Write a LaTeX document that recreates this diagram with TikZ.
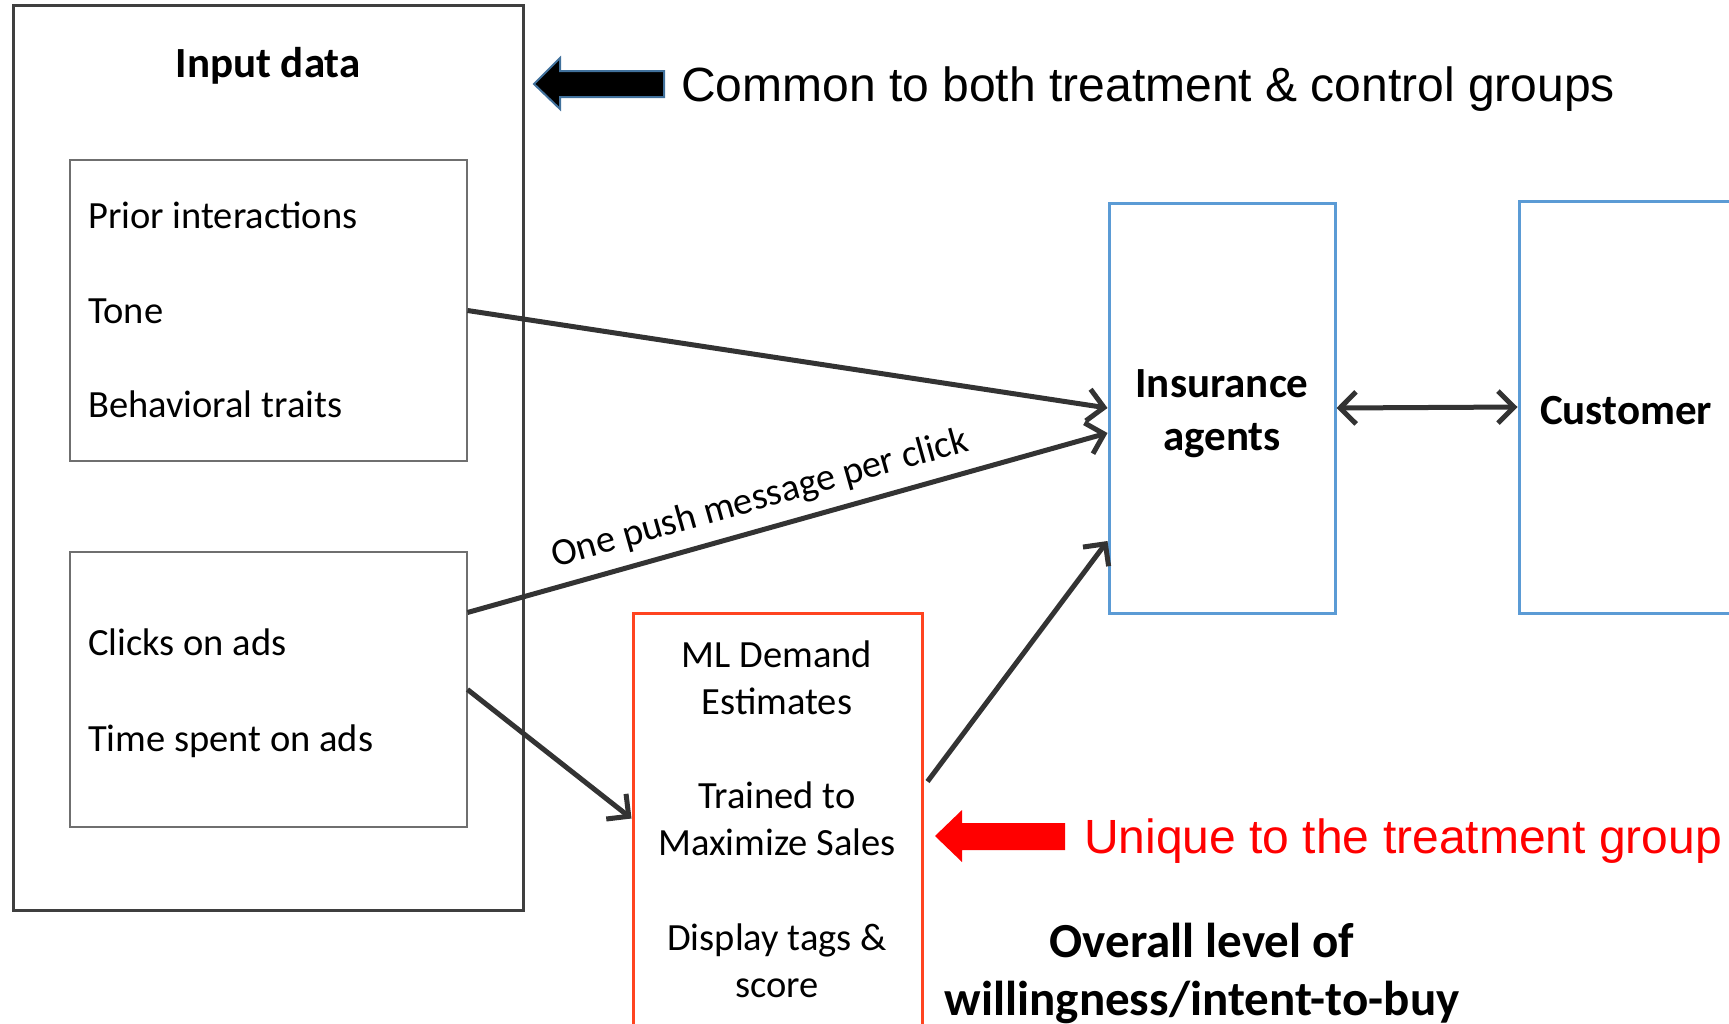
\documentclass[tikz,border=0pt]{standalone}
\usepackage{fontspec}
\setmainfont{Carlito}
\newfontfamily\arialfont{Liberation Sans}
\usetikzlibrary{arrows.meta}
\definecolor{framegray}{HTML}{3F3F3F}
\definecolor{featgray}{HTML}{6F6F6F}
\definecolor{linkgray}{HTML}{333333}
\definecolor{agentblue}{HTML}{5B9BD5}
\definecolor{mlred}{HTML}{FF4420}
\definecolor{arrowblue}{HTML}{41719C}
\tikzset{barb/.tip={Straight Barb[length=16pt,width=32pt]}}
\begin{document}
\begin{tikzpicture}[x=1pt,y=-1pt,
    every node/.style={inner sep=0pt},
    frame/.style={rectangle,draw=framegray,line width=3pt},
    featbox/.style={rectangle,draw=featgray,line width=2pt},
    agentbox/.style={rectangle,draw=agentblue,line width=3pt},
    mlbox/.style={rectangle,draw=mlred,line width=3pt},
    txt/.style={font=\fontsize{38.5}{47}\selectfont},
    btxt/.style={font=\fontsize{43}{53}\selectfont\bfseries},
    note/.style={font=\fontsize{48}{56}\selectfont\arialfont},
    link/.style={draw=linkgray,line width=5pt,-barb}]
  \useasboundingbox (0,0) rectangle (1729,1023);

  % input data
  \node[frame,minimum width=510pt,minimum height=905pt] (input) at (268,458) {};
  \node[btxt] (title) at (268,66) {Input data};
  \node[featbox,minimum width=397pt,minimum height=301pt] (feat1) at (268,310.5) {};
  \node[featbox,minimum width=397pt,minimum height=275pt] (feat2) at (268,689.5) {};
  \node[txt,anchor=base west] (prior) at (88,228) {Prior interactions};
  \node[txt,anchor=base west] (tone) at (88,323) {Tone};
  \node[txt,anchor=base west] (traits) at (88,417) {Behavioral traits};
  \node[txt,anchor=base west] (clicks) at (88,655) {Clicks on ads};
  \node[txt,anchor=base west] (timespent) at (88,751) {Time spent on ads};

  % agents and customer
  \node[agentbox,minimum width=226pt,minimum height=410pt] (agents) at (1222,408) {};
  \node[btxt,align=center] (agentstext) at (1222,414) {Insurance\\agents};
  \node[agentbox,btxt,minimum width=214pt,minimum height=412pt] (customer) at (1626,407) {};
  \node[btxt] (custtext) at (1626,411) {Customer};

  % ML box
  \node[mlbox,minimum width=289pt,minimum height=427pt] (ml) at (777.5,826.5) {};
  \node[txt,align=center] (demand) at (777,677.5) {ML Demand\\Estimates};
  \node[txt,align=center] (trained) at (777,819) {Trained to\\Maximize Sales};
  \node[txt,align=center] (tags) at (777,960.5) {Display tags \&\\score};

  % notes
  \fill[black,draw=arrowblue,line width=2pt] (664,71) -- (560,71) -- (560,58) -- (534,84) -- (560,109) -- (560,97) -- (664,97) -- cycle;
  \node[note,anchor=west] (common) at (681,89) {Common to both treatment \& control groups};
  \fill[red] (1065,823) -- (962,823) -- (962,810) -- (935,836) -- (962,862) -- (962,850) -- (1065,850) -- cycle;
  \node[note,anchor=west,text=red] (unique) at (1084,841) {Unique to the treatment group};
  \node[font=\fontsize{49}{58}\selectfont\bfseries,align=center] (overall) at (1202,973) {Overall level of\\willingness/intent-to-buy};

  % connectors
  \draw[link] (feat1.east) -- (agents.west);
  \draw[link] ([yshift=77pt]feat2.east) -- node[txt,sloped,above=11pt,pos=0.47] {One push message per click} ([yshift=-25pt]agents.west);
  \draw[link] ([xshift=4pt,yshift=45pt]ml.east) -- ([yshift=-133pt]agents.west);
  \draw[link] (feat2.east) -- ([yshift=8pt]ml.west);
  \draw[link,barb-barb] (agents.east) -- (customer.west);
\end{tikzpicture}
\end{document}
